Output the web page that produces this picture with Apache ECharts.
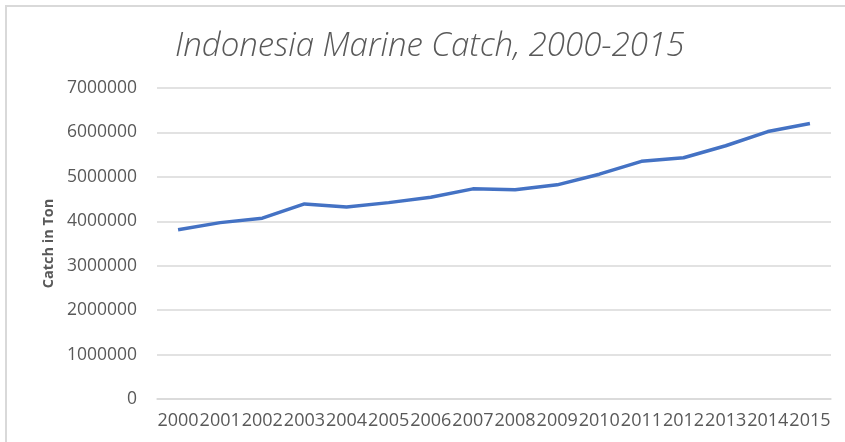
<!DOCTYPE html>
<html>
<head>
<meta charset="utf-8">
<title>Indonesia Marine Catch</title>
<script src="https://cdn.jsdelivr.net/npm/echarts@6/dist/echarts.min.js"></script>
<style>
    html, body { margin: 0; padding: 0; background: #fff; }
    #chart { width: 845px; height: 442px; }
</style>
</head>
<body>
<div id="chart"></div>
<script>
// years on the x axis
let years = ["2000", "2001", "2002", "2003", "2004", "2005", "2006", "2007",
             "2008", "2009", "2010", "2011", "2012", "2013", "2014", "2015"];
// marine catch, tons
let catchTons = [3810000, 3970000, 4070000, 4390000, 4320000, 4420000, 4540000, 4730000,
                 4710000, 4820000, 5060000, 5350000, 5430000, 5700000, 6020000, 6200000];
let yTicks = { min: 0, max: 7000000, step: 1000000 };

let chart = echarts.init(document.getElementById("chart"));
let option = {
    animation: false,
    title: {
        text: "Indonesia Marine Catch, 2000-2015",
        left: 170,
        top: 25,
        textStyle: {
            fontFamily: "Open Sans",
            fontStyle: "italic",
            fontWeight: 300,
            fontSize: 33,
            color: "#595959"
        }
    },
    graphic: [
        {
            // chart area border (top and left edges show)
            type: "rect",
            shape: { x: 6, y: 6, width: 860, height: 460 },
            style: { fill: "none", stroke: "#d9d9d9", lineWidth: 2 },
            silent: true
        }
    ],
    grid: {
        left: 157,
        right: 14,
        top: 88,
        bottom: 43
    },
    xAxis: {
        type: "category",
        data: years,
        boundaryGap: true,
        axisLine: { lineStyle: { color: "#d9d9d9", width: 1.5 } },
        axisTick: { show: false },
        axisLabel: {
            interval: 0,
            margin: 13,
            fontFamily: "Open Sans",
            fontSize: 18,
            color: "#595959"
        }
    },
    yAxis: {
        type: "value",
        min: yTicks.min,
        max: yTicks.max,
        interval: yTicks.step,
        name: "Catch in Ton",
        nameLocation: "middle",
        nameGap: 98,
        nameTextStyle: {
            fontFamily: "Open Sans",
            fontWeight: "bold",
            fontSize: 14.5,
            color: "#595959"
        },
        axisLine: { show: false },
        axisTick: { show: false },
        splitLine: { lineStyle: { color: "#d9d9d9", width: 1.5 } },
        axisLabel: {
            margin: 20,
            fontFamily: "Open Sans",
            fontSize: 17.5,
            color: "#595959",
            formatter: function(value) {
                return String(value);
            }
        }
    },
    series: [
        {
            type: "line",
            data: catchTons,
            showSymbol: false,
            lineStyle: { color: "#4472C4", width: 3.5 },
            itemStyle: { color: "#4472C4" }
        }
    ]
};
chart.setOption(option);
</script>
</body>
</html>
